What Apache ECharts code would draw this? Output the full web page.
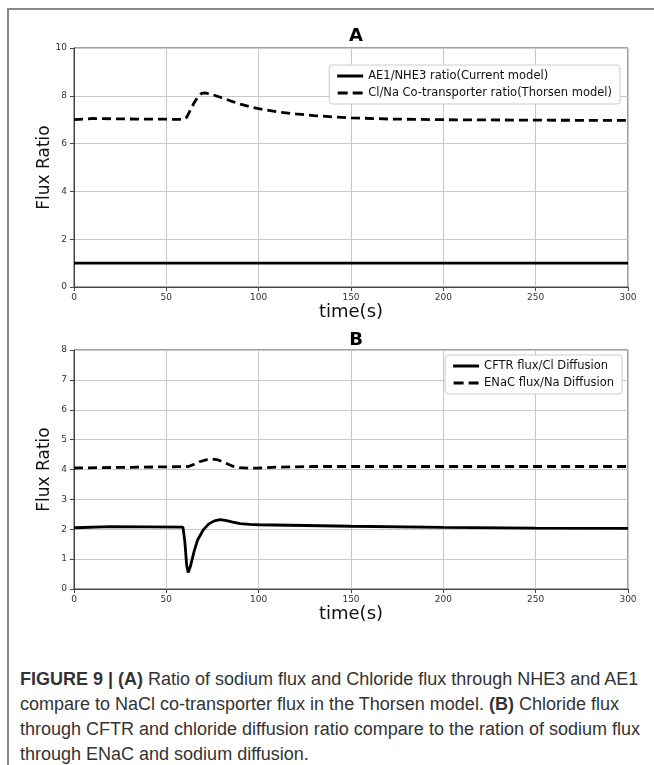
<!DOCTYPE html>
<html>
<head>
<meta charset="utf-8">
<script src="https://cdn.jsdelivr.net/npm/echarts@6/dist/echarts.min.js"></script>
<style>
  body { margin: 0; background: #fff; }
  #frame {
    position: absolute; left: 7px; top: 8px; width: 647px; height: 757px;
    border-left: 2px solid #888; border-top: 2px solid #888;
  }
  #chart { position: absolute; left: 0; top: 0; width: 654px; height: 660px; }
  #caption {
    position: absolute; left: 20px; top: 667px; width: 634px; white-space: nowrap;
    font-family: "Liberation Sans", Arial, sans-serif; font-size: 18px;
    line-height: 25px; color: #333;
  }
</style>
</head>
<body>
<div id="frame"></div>
<div id="chart"></div>
<div id="caption"><b>FIGURE 9 | (A)</b> Ratio of sodium flux and Chloride flux through NHE3 and AE1<br>compare to NaCl co-transporter flux in the Thorsen model. <b>(B)</b> Chloride flux<br>through CFTR and chloride diffusion ratio compare to the ration of sodium flux<br>through ENaC and sodium diffusion.</div>
<script type="text/javascript">
// panel A
var timeA = [0, 300];
var ae1Nhe3 = [1.0, 1.0];

var timeThorsen = [0, 1, 10, 30, 50, 59, 61, 63, 65, 67, 69, 71, 75, 80, 85, 90, 95, 100, 110, 120, 130, 140, 150, 170, 200, 250, 300];
var clNaThorsen = [7.0, 7.05, 7.05, 7.03, 7.02, 7.01, 7.1, 7.4, 7.7, 7.95, 8.1, 8.12, 8.05, 7.92, 7.78, 7.65, 7.55, 7.46, 7.33, 7.24, 7.17, 7.12, 7.08, 7.03, 7.0, 6.98, 6.97];

// panel B
var timeCftr = [0, 1, 20, 40, 59, 60, 61, 61.8, 63, 65, 67, 70, 73, 76, 79, 82, 86, 90, 95, 100, 150, 200, 250, 300];
var cftrCl = [2.05, 2.1, 2.09, 2.08, 2.07, 1.6, 0.8, 0.55, 0.75, 1.25, 1.65, 1.98, 2.18, 2.28, 2.32, 2.3, 2.24, 2.19, 2.16, 2.15, 2.1, 2.06, 2.04, 2.03];

var timeEnac = [0, 1, 62, 65, 68, 72, 75, 78, 82, 86, 90, 95, 100, 110, 130, 300];
var enacNa = [4.05, 4.1, 4.1, 4.17, 4.26, 4.33, 4.35, 4.32, 4.22, 4.11, 4.06, 4.04, 4.05, 4.08, 4.1, 4.1];

function pairs(xs, ys) {
  return xs.map(function (x, i) { return [x, ys[i]]; });
}

var font = 'DejaVu Sans';
// legend samples: plain line and dashed line
var solidIcon = 'path://M0,0H26V3H0Z';
var dashIcon = 'path://M0,0H10V3H0Z M15,0H25V3H15Z';

function xAxisFor(idx) {
  return {
    gridIndex: idx, type: 'value', min: 0, max: 300, interval: 50,
    name: 'time(s)', nameLocation: 'middle', nameGap: 16, nameMoveOverlap: false,
    nameTextStyle: { fontFamily: font, fontSize: 18, color: '#111' },
    axisLine: { onZero: false, lineStyle: { color: '#444', width: 1 } },
    axisTick: { show: true, length: 4, lineStyle: { color: '#444' } },
    axisLabel: { fontFamily: font, fontSize: 9, color: '#333', margin: 6 },
    splitLine: { show: true, lineStyle: { color: '#c8c8c8', width: 1 } }
  };
}

function yAxisFor(idx, max, step) {
  return {
    gridIndex: idx, type: 'value', min: 0, max: max, interval: step,
    name: 'Flux Ratio', nameLocation: 'middle', nameGap: 21, nameMoveOverlap: false,
    nameTextStyle: { fontFamily: font, fontSize: 17, color: '#111' },
    axisLine: { show: true, lineStyle: { color: '#444', width: 1 } },
    axisTick: { show: true, length: 4, lineStyle: { color: '#444' } },
    axisLabel: { fontFamily: font, fontSize: 9, color: '#333', margin: 7 },
    splitLine: { show: true, lineStyle: { color: '#c8c8c8', width: 1 } }
  };
}

function lineSeries(name, idx, data, dashed) {
  return {
    name: name, type: 'line', xAxisIndex: idx, yAxisIndex: idx,
    data: data, symbol: 'none', smooth: false, silent: true,
    lineStyle: { color: '#000', width: 2.8, type: dashed ? [9, 5] : 'solid' },
    itemStyle: { color: '#000' }
  };
}

var legendBase = {
  orient: 'vertical', itemWidth: 26, itemHeight: 3, itemGap: 5,
  backgroundColor: '#fff', borderColor: '#ccc', borderWidth: 1, borderRadius: 3,
  padding: [5, 8, 5, 8],
  itemStyle: { color: '#000', borderWidth: 0 },
  textStyle: { fontFamily: font, fontSize: 11.5, color: '#111' }
};

var option = {
  animation: false,
  title: [
    { text: 'A', left: 351, top: 22, textAlign: 'center',
      textStyle: { fontFamily: font, fontSize: 18, fontWeight: 'bold', color: '#000' } },
    { text: 'B', left: 351, top: 326, textAlign: 'center',
      textStyle: { fontFamily: font, fontSize: 18, fontWeight: 'bold', color: '#000' } }
  ],
  grid: [
    { left: 74, top: 48, width: 554, height: 239, show: true, borderColor: '#444', borderWidth: 1 },
    { left: 74, top: 350, width: 554, height: 239, show: true, borderColor: '#444', borderWidth: 1 }
  ],
  xAxis: [xAxisFor(0), xAxisFor(1)],
  yAxis: [yAxisFor(0, 10, 2), yAxisFor(1, 8, 1)],
  legend: [
    Object.assign({}, legendBase, {
      data: [
        { name: 'AE1/NHE3 ratio(Current model)', icon: solidIcon },
        { name: 'Cl/Na Co-transporter ratio(Thorsen model)', icon: dashIcon }
      ],
      right: 34, top: 65
    }),
    Object.assign({}, legendBase, {
      data: [
        { name: 'CFTR flux/Cl Diffusion', icon: solidIcon },
        { name: 'ENaC flux/Na Diffusion', icon: dashIcon }
      ],
      right: 32, top: 355
    })
  ],
  series: [
    lineSeries('AE1/NHE3 ratio(Current model)', 0, pairs(timeA, ae1Nhe3), false),
    lineSeries('Cl/Na Co-transporter ratio(Thorsen model)', 0, pairs(timeThorsen, clNaThorsen), true),
    lineSeries('CFTR flux/Cl Diffusion', 1, pairs(timeCftr, cftrCl), false),
    lineSeries('ENaC flux/Na Diffusion', 1, pairs(timeEnac, enacNa), true)
  ]
};

var myChart = echarts.init(document.getElementById('chart'));
myChart.setOption(option);
</script>
</body>
</html>
